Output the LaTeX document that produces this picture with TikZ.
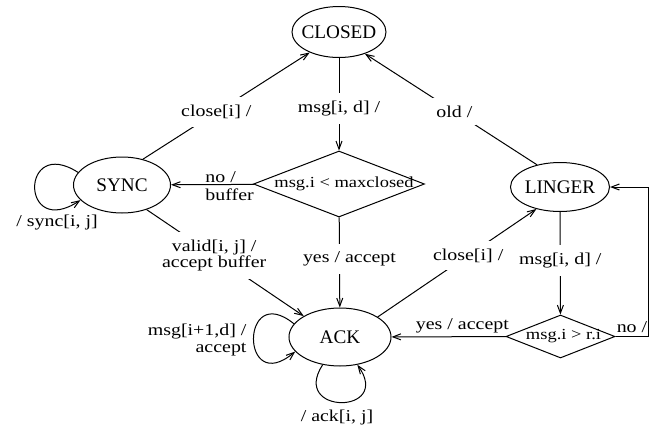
\documentclass[tikz,border=0pt]{standalone}
\usepackage{fontspec}
\setmainfont{Liberation Serif}
\newfontfamily\lblfont{Liberation Serif}[FakeStretch=1.2]
\usetikzlibrary{arrows.meta, shapes.geometric}

\newcommand{\nowidth}[1]{\makebox[0pt]{#1}}

\begin{document}
\begin{tikzpicture}[
    x=0.5pt, y=-0.5pt,
    line width=0.5pt,
    every node/.style={align=center},
    statenode/.style={draw, ellipse, inner sep=0pt, font=\fontsize{9.6}{11}\selectfont},
    decision/.style={draw, diamond, inner sep=0pt, font=\lblfont\fontsize{7.7}{9}\selectfont},
    lbl/.style={font=\lblfont\fontsize{8.3}{7.7}\selectfont, fill=white, inner xsep=2pt, inner ysep=4pt},
    plainlabel/.style={font=\lblfont\fontsize{8.3}{7.7}\selectfont, inner sep=0pt},
    arrow/.style={-{Straight Barb[length=4pt, width=3pt]}}
]
\useasboundingbox (0,0) rectangle (660,429);

% States
\node[statenode, minimum width=47pt, minimum height=25.5pt] (closed) at (339,32) {\nowidth{CLOSED}};
\node[statenode, minimum width=48.5pt, minimum height=28pt] (sync) at (122,185) {\nowidth{SYNC}};
\node[statenode, minimum width=49.5pt, minimum height=24.5pt] (linger) at (560,187) {\nowidth{LINGER}};
\node[statenode, minimum width=51pt, minimum height=29pt] (ack) at (340,337) {\nowidth{ACK}};

% Tests
\node[decision, minimum width=85.5pt, minimum height=33pt] (mtest) at (339,184) {\nowidth{\hspace{5pt}msg.i < maxclosed}};
\node[decision, minimum width=54.5pt, minimum height=21.5pt] (rtest) at (560.5,336.5) {\nowidth{\hspace{3pt}msg.i > r.i}};

% Leaving SYNC
\draw[arrow] (sync.51) -- node[lbl, pos=0.44] {close[i] /} (closed.215);
\draw[arrow] (sync.315) -- node[lbl, pos=0.43] {valid[i, j] /\\accept buffer} (ack.150);
\draw[arrow] (sync.164) .. controls (20,135) and (20,240) .. (sync.200);
\node[plainlabel] (synclbl) at (57,223) {/ sync[i, j]};

% Leaving CLOSED
\draw[arrow] (closed) -- node[lbl, pos=0.55] {msg[i, d] /} (mtest);
\draw[arrow] (mtest) -- node[lbl, pos=0.46, xshift=5pt] {yes / accept} (ack);
\draw[arrow] (mtest) -- (sync);
\node[plainlabel, align=left, anchor=west] (nobuf) at (205,186) {no /\\[1.4pt]buffer};

% Leaving LINGER
\draw[arrow] (linger.136) -- node[lbl, pos=0.48] {old /} (closed.320);
\draw[arrow] (linger) -- node[lbl, pos=0.47] {msg[i, d] /} (rtest);
\draw[arrow] (rtest) -- node[plainlabel, pos=0.38, anchor=south, yshift=1.5pt] {yes / accept} (ack);
\draw[arrow] (rtest.east) -- ++(33,0) node[plainlabel, midway, anchor=south, yshift=1.5pt] {no /} |- (linger.east);

% Leaving ACK
\draw[arrow] (ack.28) -- node[lbl, pos=0.57] {close[i] /} (linger.223);
\draw[arrow] (ack.164) .. controls (240,280) and (240,398) .. (ack.198);
\draw[arrow] (ack.238) .. controls (290,415) and (393,415) .. (ack.302);
\node[plainlabel, align=right, anchor=east] (acklbl) at (247,340) {msg[i+1,d] /\\[0.8pt]accept};
\node[plainlabel] (ackself) at (337,418) {/ ack[i, j]};

\end{tikzpicture}
\end{document}
